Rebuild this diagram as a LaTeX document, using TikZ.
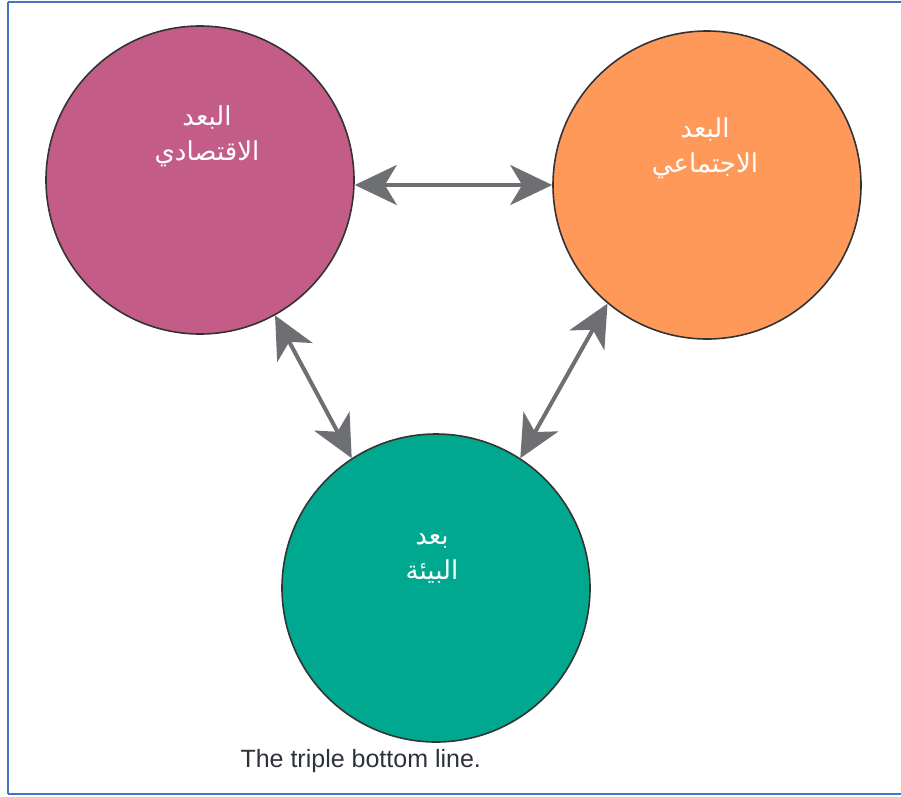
\documentclass[tikz,border=0pt]{standalone}
\usepackage{fontspec}
\setmainfont{Liberation Sans}
\newfontfamily\arabicfont[Script=Arabic]{DejaVu Sans}
\TeXXeTstate=1
\usetikzlibrary{arrows.meta}
\definecolor{pinkc}{RGB}{196,92,136}
\definecolor{orangec}{RGB}{255,153,90}
\definecolor{greenc}{RGB}{0,168,143}
\definecolor{arrowc}{RGB}{110,111,114}
\definecolor{framec}{RGB}{68,114,196}
\definecolor{capc}{RGB}{45,50,58}
\tikzset{
  dim/.style={circle, draw=black!80, line width=1.6pt, minimum size=308pt, inner sep=0pt},
  dimtext/.style={text=white, font=\arabicfont\fontsize{26}{35}\selectfont, align=center, inner sep=0pt},
  biarrow/.style={draw=arrowc, line width=4pt, {Stealth[length=42pt,width=40pt,inset=12pt]}-{Stealth[length=42pt,width=40pt,inset=12pt]}},
}
\begin{document}
\begin{tikzpicture}[x=1pt,y=-1pt]
\useasboundingbox (0,0) rectangle (901,796);
\fill[white] (0,0) rectangle (901,796);
\draw[framec, line width=2pt] (8,1.5) -- (905,1.5) (8,1.5) -- (8,794) (8,794) -- (905,794);
\node[dim, fill=pinkc] (pink) at (200,180) {};
\node[dim, fill=orangec] (orange) at (707,185) {};
\node[dim, fill=greenc] (green) at (436,588) {};
\node[dimtext] (pinkt) at (207,136) {\beginR البعد\endR\\\beginR الاقتصادي\endR};
\node[dimtext] (oranget) at (705,148) {\beginR البعد\endR\\\beginR الاجتماعي\endR};
\node[dimtext] (greent) at (432,558) {\beginR بعد\endR\\\beginR البيئة\endR};
\draw[biarrow] (pink.east |- 0,185) -- (orange.west |- 0,185);
\draw[biarrow] (pink.-61) -- (green.123);
\draw[biarrow] (orange.-130) -- (green.57);
\node[text=capc, font=\fontsize{25}{30}\selectfont, anchor=west] (cap) at (237,761) {The triple bottom line.};
\end{tikzpicture}
\end{document}
